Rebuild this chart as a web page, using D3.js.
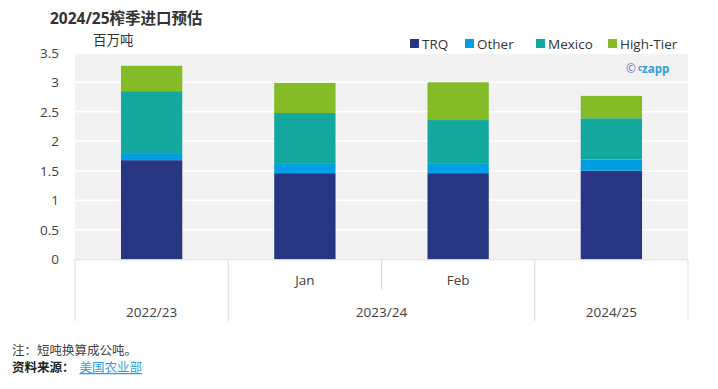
<!DOCTYPE html>
<html><head><meta charset="utf-8">
<script src="https://cdn.jsdelivr.net/npm/d3@7"></script>
<style>
body{margin:0;background:#fff;font-family:"Open Sans","Noto Sans CJK SC",sans-serif;}
</style></head>
<body><svg id="c" width="718" height="389"></svg>
<script>
const categories = ["2022/23", "Jan", "Feb", "2024/25"];
const groups = [{label:"2022/23", span:[0,0]}, {label:"2023/24", span:[1,2]}, {label:"2024/25", span:[3,3]}];
const seriesNames = ["TRQ", "Other", "Mexico", "High-Tier"];
const trq = [1.68, 1.46, 1.46, 1.50];
const other = [0.12, 0.17, 0.17, 0.19];
const mexico = [1.05, 0.85, 0.73, 0.70];
const highTier = [0.43, 0.51, 0.64, 0.38];
const yTicks = [0, 0.5, 1, 1.5, 2, 2.5, 3, 3.5];
const colors = ["#283583", "#009fe3", "#13a89e", "#84bb26"];

const svg = d3.select("#c");
const font = '"Open Sans","Noto Sans CJK SC",sans-serif';
const txt = "#404040";
const m = {l:75, r:688, t:52.8, b:259.3};

const x = d3.scaleBand().domain(categories).range([m.l, m.r]).paddingInner(0).paddingOuter(0);
const y = d3.scaleLinear().domain([0, 3.5]).range([m.b, m.t]);

// background
svg.append("rect").attr("x", m.l).attr("y", y(3.5)+1).attr("width", m.r - m.l).attr("height", m.b - y(3.5)-1).attr("fill", "#f2f2f2");

// gridlines
svg.append("g").selectAll("line").data(yTicks.filter(d => d > 0 && d < 3.5)).join("line")
  .attr("x1", m.l).attr("x2", m.r).attr("y1", d => y(d)).attr("y2", d => y(d))
  .attr("stroke", "#fff").attr("stroke-width", 1.5);

// y axis labels
const yAxis = d3.axisLeft(y).tickValues(yTicks).tickSize(0).tickPadding(16).tickFormat(d3.format("~g"));
const ya = svg.append("g").attr("transform", `translate(${m.l},0)`).call(yAxis);
ya.select(".domain").remove();
ya.selectAll("text").attr("font-family", font).attr("font-size", 13.5).attr("fill", txt);

// stacked bars
const rows = categories.map((c, i) => ({cat: c, "TRQ": trq[i], "Other": other[i], "Mexico": mexico[i], "High-Tier": highTier[i]}));
const stack = d3.stack().keys(seriesNames)(rows);
const bw = x.bandwidth() * 0.4;
svg.append("g").selectAll("g").data(stack).join("g").attr("fill", (d, i) => colors[i])
  .selectAll("rect").data(d => d).join("rect")
  .attr("x", d => x(d.data.cat) + (x.bandwidth() - bw) / 2)
  .attr("width", bw)
  .attr("y", d => y(d[1]))
  .attr("height", d => y(d[0]) - y(d[1]));

// category axis grid
const axisG = svg.append("g").attr("stroke", "#dcdcdc").attr("stroke-width", 1);
const yb = m.b, ymid = 290, ybot = 321;
axisG.append("line").attr("x1", m.l).attr("x2", m.r).attr("y1", yb + 0.5).attr("y2", yb + 0.5);
const bounds = [m.l, ...categories.map(c => x(c) + x.bandwidth())];
bounds.forEach((bx, i) => {
  const inner = i === 2;
  axisG.append("line").attr("x1", bx).attr("x2", bx).attr("y1", yb).attr("y2", inner ? ymid : ybot);
});
svg.append("g").selectAll("text").data(["Jan", "Feb"]).join("text")
  .attr("x", d => x(d) + x.bandwidth() / 2).attr("y", 285)
  .attr("text-anchor", "middle").attr("font-family", font).attr("font-size", 13.5).attr("fill", txt).text(d => d);
svg.append("g").selectAll("text").data(groups).join("text")
  .attr("x", d => (x(categories[d.span[0]]) + x(categories[d.span[1]]) + x.bandwidth()) / 2).attr("y", 317)
  .attr("text-anchor", "middle").attr("font-family", font).attr("font-size", 13.5).attr("fill", txt).text(d => d.label);

// title
svg.append("text").attr("x", 50).attr("y", 24).attr("font-family", font).attr("font-size", 15.5).attr("font-weight", "bold").attr("fill", "#333").text("2024/25榨季进口预估");
svg.append("text").attr("x", 93).attr("y", 45).attr("font-family", font).attr("font-size", 13.5).attr("fill", "#333").text("百万吨");

// legend
const legX = [410, 465, 536, 608];
const lg = svg.append("g").selectAll("g").data(seriesNames).join("g").attr("transform", (d, i) => `translate(${legX[i]},0)`);
lg.append("rect").attr("x", 0).attr("y", 39).attr("width", 9).attr("height", 9).attr("fill", (d, i) => colors[i]);
lg.append("text").attr("x", 12).attr("y", 48.5).attr("font-family", font).attr("font-size", 13.5).attr("fill", "#333").text(d => d);

// czapp mark
const logo = svg.append("text").attr("x", 626).attr("y", 72.5).attr("font-family", font).attr("font-size", 12);
logo.append("tspan").attr("fill", "#6a7bb5").text("©");
logo.append("tspan").attr("dx", 2).attr("fill", "#2a9fdc").attr("font-size", 8).attr("font-weight", "bold").attr("dy", -2).text("c");
logo.append("tspan").attr("fill", "#2a9fdc").attr("font-weight", "bold").attr("font-size", 11.5).attr("dy", 2).text("zapp");

// footer
svg.append("text").attr("x", 12).attr("y", 355).attr("font-family", font).attr("font-size", 12.5).attr("fill", "#404040").text("注：短吨换算成公吨。");
const src = svg.append("text").attr("x", 12).attr("y", 372).attr("font-family", font).attr("font-size", 12.5);
src.append("tspan").attr("fill", "#222").attr("font-weight", "bold").text("资料来源：");
src.append("tspan").attr("dx", 5).attr("fill", "#2a9fdc").attr("text-decoration", "underline").text("美国农业部");
</script></body></html>
